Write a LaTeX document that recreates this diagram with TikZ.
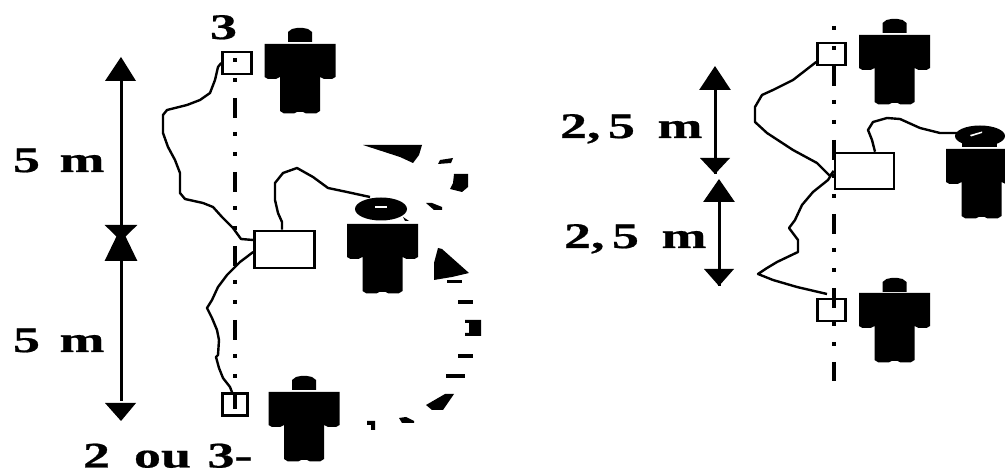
\documentclass[tikz,border=0pt]{standalone}
\usepackage{fontspec}
\newfontfamily\lblfont[FakeBold=0.5]{Liberation Serif Bold}
\usetikzlibrary{arrows.meta}
\tikzset{
  ink/.style={fill=black,draw=none},
  wire/.style={draw=black,line width=2.4pt,line join=round},
  socket/.style={draw=black,line width=2.6pt,rectangle,inner sep=0pt,fill=none},
  axis/.style={draw=black,line width=3.6pt,dash pattern=on 20pt off 14pt on 4pt off 16pt on 4pt off 16pt,dash phase=34pt},
  measure/.style={draw=black,line width=3pt},
  lbl/.style={inner sep=0pt,outer sep=0pt,anchor=base west,font=\fontsize{36}{36}\lblfont},
  bodyfig/.pic={
    \path[ink] (-35.5,0) -- (35.5,0) -- (35.5,33) -- (32,35) -- (24,35) -- (20,33) -- (20,67) -- (16,69.5) -- (6,69.5) -- (3,68) -- (-3,68) -- (-6,69.5) -- (-16,69.5) -- (-20,67) -- (-20,33) -- (-24,35) -- (-32,35) -- (-35.5,33) -- cycle;
  },
  headfig/.pic={
    \path[ink] (-12,14) -- (-12,4) -- (-8,1) -- (-3,0) -- (3,0) -- (8,1) -- (12,4) -- (12,14) -- cycle;
  }
}
\newcommand{\wiggle}[1]{\scalebox{1.5}[1]{#1}}
\begin{document}
\begin{tikzpicture}[x=1pt,y=-1pt]
\useasboundingbox (0,0) rectangle (1005,470);
\clip (0,0) rectangle (1005,470);
\fill[white] (0,0) rectangle (1005,470);

% axes
\coordinate (axLa) at (235,58); \coordinate (axLb) at (235,409);
\coordinate (axRa) at (834,26); \coordinate (axRb) at (834,381);
\path[axis] (axLa) -- (axLb);
\path[axis] (axRa) -- (axRb);

% sockets
\node[socket,minimum width=29pt,minimum height=22pt] (lt) at (237,63) {};
\node[socket,minimum width=60pt,minimum height=37pt] (lm) at (284.5,249.5) {};
\node[socket,minimum width=25pt,minimum height=22pt] (lb) at (235,404.5) {};
\node[socket,minimum width=28pt,minimum height=22pt] (rt) at (831.5,54) {};
\node[socket,minimum width=59pt,minimum height=36pt] (rm) at (864.5,171) {};
\node[socket,minimum width=28pt,minimum height=22pt] (rb) at (831.5,310) {};

% people
\pic at (300,44) {bodyfig}; \pic at (300,28) {headfig};
\pic at (304,392) {bodyfig}; \pic at (304,376) {headfig};
\pic at (382.5,224) {bodyfig};
\pic at (894.5,35) {bodyfig}; \pic at (894.5,19) {headfig};
\pic at (894.5,293) {bodyfig}; \pic at (894.5,278) {headfig};
\pic at (981.5,149) {bodyfig};

% caps
\path[ink] (381,209) ellipse [x radius=26,y radius=11.5];
\path[ink] (403,217) -- (409,221) -- (405,221) -- cycle;
\path[fill=white] (375,206.5) rectangle (387,208.5);
\path[ink] (980,136) ellipse [x radius=25,y radius=10.5];
\path[ink] (962,140) rectangle (997,147);
\path[fill=white] (970,135) -- (982,131.5) -- (982,133) -- (971,136.5) -- cycle;

% wires
\coordinate (capL) at (370,197);
\coordinate (capR) at (957,133);
\draw[wire] (lt.west) -- (218,67) -- (215,80) -- (210,93) -- (200,100) -- (187,105) -- (167,110) -- (163,115) -- (163,133) -- (168,147) -- (175,160) -- (180,173) -- (180,193) -- (185,199) -- (203,203) -- (213,207) -- (222,217) -- (233,228) -- (241,239) -- (lm.west |- 0,240);
\draw[wire] (lm.west |- 0,252) -- (240,262) -- (235,267) -- (227,275) -- (218,287) -- (212,300) -- (207,308) -- (212,318) -- (217,330) -- (219,340) -- (218,355) -- (216,357) -- (219,368) -- (223,378) -- (230,387) -- (lb.north -| 232,0);
\draw[wire] (lm.north -| 282,0) -- (282,222) -- (278,213) -- (275,200) -- (275,183) -- (283,173) -- (297,168) -- (313,177) -- (328,188) -- (347,192) -- (capL);
\draw[wire] (rt.west |- 0,62) -- (793,80) -- (773,90) -- (762,95) -- (755,107) -- (755,122) -- (767,133) -- (793,150) -- (817,163) -- (830,176) -- (rm.west);
\draw[wire] (rm.west) -- (828,180) -- (813,192) -- (802,205) -- (795,220) -- (789,228) -- (798,240) -- (798,252) -- (777,262) -- (767,268) -- (758,274) -- (773,280) -- (797,287) -- (827,294);
\draw[wire] (rm.north -| 875,0) -- (872,140) -- (868,130) -- (873,122) -- (887,118) -- (900,119) -- (920,128) -- (940,133) -- (capR);

% dimension arrows
\coordinate (a1) at (121,57); \coordinate (a2) at (121,241);
\coordinate (a3) at (121,227); \coordinate (a4) at (121,421);
\coordinate (a5) at (715,66); \coordinate (a6) at (715,174);
\coordinate (a7) at (719,179); \coordinate (a8) at (719,286);
\draw[measure,-{Triangle[length=16pt,width=32pt]},shorten <=20pt] (a1) -- (a2);
\path[ink] (a1) -- (136,81) -- (105,81) -- cycle;
\draw[measure,-{Triangle[length=34pt,width=32pt]},shorten <=20pt] (a4) -- (a3);
\path[ink] (a4) -- (105,403) -- (136,403) -- cycle;
\draw[measure,-{Triangle[length=24pt,width=31pt]}] (a6) -- (a5);
\path[ink] (a6) -- (700,158) -- (730,158) -- cycle;
\draw[measure,-{Triangle[length=23pt,width=31pt]}] (a8) -- (a7);
\path[ink] (a8) -- (704,269) -- (734,269) -- cycle;

% rotation marks (upper)
\path[ink] (363,145) -- (422,145) -- (419,155) -- (413,163) -- (400,157) -- cycle;
\path[ink] (440,160) -- (453,158) -- (451,163) -- (438,164) -- cycle;
\path[ink] (454,174) -- (468,174) -- (468,187) -- (462,192) -- (450,189) -- (453,183) -- cycle;
\path[ink] (426,203) -- (432,203) -- (442,207) -- (442,210) -- (434,210) -- cycle;
% rotation marks (lower)
\path[ink] (438,248) -- (442,249) -- (469,273) -- (452,277) -- (434,280) -- (434,263) -- cycle;
\path[ink] (447,280) rectangle (462,283.5);
\path[ink] (458,300) rectangle (473,304);
\path[ink] (465,320) -- (481,320) -- (481,336) -- (465,336) -- (465,333) -- (470,333) -- (470,323) -- (465,323) -- cycle;
\path[ink] (469,322) rectangle (481,335);
\path[ink] (458,354) rectangle (473,358);
\path[ink] (446,374) rectangle (465,378);
\path[ink] (445,394) -- (454,394) -- (443,410) -- (432,410) -- (426,405) -- cycle;
\path[ink] (399,418) -- (406,417) -- (414,421) -- (414,423) -- (402,423) -- cycle;
\path[ink] (367,421) -- (375,421) -- (375,430) -- (371,430) -- (371,425) -- (367,425) -- cycle;

% labels
\node[lbl] (t3) at (210,39) {\wiggle{3}};
\node[lbl] (t5a) at (13,172) {\wiggle{5\hspace{13pt}m}};
\node[lbl] (t5b) at (13,352) {\wiggle{5\hspace{13pt}m}};
\node[lbl] (t23) at (83,467.5) {\wiggle{2\hspace{16pt}ou\hspace{11pt}3-}};
\node[lbl] (t25a) at (560,138) {\wiggle{2,\hspace{5pt}5\hspace{15pt}m}};
\node[lbl] (t25b) at (564,248) {\wiggle{2,\hspace{5pt}5\hspace{15pt}m}};
\end{tikzpicture}
\end{document}
